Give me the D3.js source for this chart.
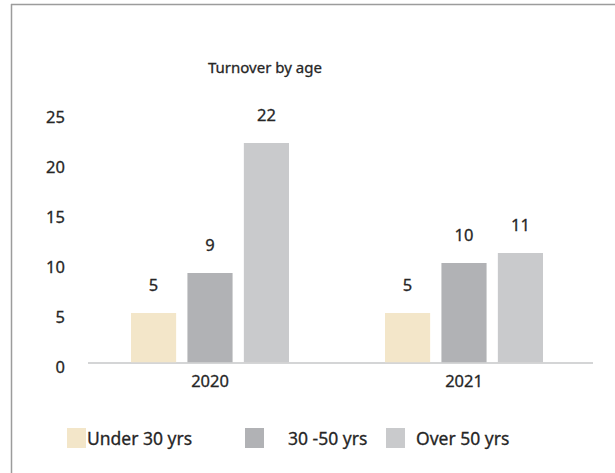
<!DOCTYPE html>
<html>
<head>
<meta charset="utf-8">
<script src="https://cdn.jsdelivr.net/npm/d3@7"></script>
<style>
  html, body { margin: 0; padding: 0; background: #fff; }
  svg text { font-family: "Noto Sans", "Open Sans", sans-serif; fill: #262626; stroke: #262626; stroke-width: 0.3px; }
</style>
</head>
<body>
<svg id="chart" width="615" height="473"></svg>
<script>
// Turnover counts by age band, per year
const years = ["2020", "2021"];
const series = ["Under 30 yrs", "30 -50 yrs", "Over 50 yrs"];
const values2020 = [5, 9, 22];
const values2021 = [5, 10, 11];
const yTicks = [0, 5, 10, 15, 20, 25];
const colors = ["#f3e6c9", "#b1b2b5", "#c9cacc"];

const rows = years.map((yr, i) => ({ year: yr, vals: [values2020, values2021][i] }));

const svg = d3.select("#chart");
const FONT = "\"Noto Sans\", sans-serif";

// frame: top and left edges only
svg.append("line").attr("x1", 11).attr("x2", 615).attr("y1", 4.5).attr("y2", 4.5)
  .attr("stroke", "#9c9c9c").attr("stroke-width", 1.5);
svg.append("line").attr("x1", 11.5).attr("x2", 11.5).attr("y1", 4).attr("y2", 473)
  .attr("stroke", "#9c9c9c").attr("stroke-width", 1.5);

const x0 = d3.scaleBand().domain(years).range([83, 591]);
const x1 = d3.scaleBand().domain(series).range([-79, 79]).paddingInner(0.2);
const y = d3.scaleLinear().domain([0, 25]).range([363, 113]);

// title
svg.append("text").attr("x", 208).attr("y", 73)
  .attr("font-size", 15).text("Turnover by age");

// y axis labels
const yAxis = d3.axisLeft(y).tickValues(yTicks).tickSize(0).tickPadding(0);
const gy = svg.append("g").attr("transform", "translate(65,4)").call(yAxis);
gy.select(".domain").remove();
gy.selectAll("text").attr("font-size", 16.5).style("font-family", FONT).attr("fill", "#262626");

// baseline
svg.append("line").attr("x1", 88).attr("x2", 593).attr("y1", y(0)).attr("y2", y(0))
  .attr("stroke", "#c6c7c9").attr("stroke-width", 1.5);

// bars
const groups = svg.selectAll("g.year").data(rows).join("g")
  .attr("class", "year")
  .attr("transform", d => `translate(${x0(d.year) + x0.bandwidth() / 2},0)`);

groups.selectAll("rect").data(d => d.vals.map((v, i) => ({ s: series[i], v, i })))
  .join("rect")
  .attr("x", d => x1(d.s))
  .attr("width", x1.bandwidth())
  .attr("y", d => y(d.v))
  .attr("height", d => y(0) - y(d.v) - 0.75)
  .attr("fill", d => colors[d.i]);

groups.selectAll("text.val").data(d => d.vals.map((v, i) => ({ s: series[i], v, i })))
  .join("text")
  .attr("class", "val")
  .attr("x", d => x1(d.s) + x1.bandwidth() / 2)
  .attr("y", d => y(d.v) - 22)
  .attr("text-anchor", "middle")
  .attr("font-size", 16.5)
  .text(d => d.v);

// x axis labels
const xAxis = d3.axisBottom(x0).tickSize(0).tickPadding(0);
const gx = svg.append("g").attr("transform", "translate(0,375)").call(xAxis);
gx.select(".domain").remove();
gx.selectAll("text").attr("font-size", 16.5).attr("dy", "0.7em")
  .style("font-family", FONT).attr("fill", "#262626");

// legend
const legendX = [67, 245, 386];
const legendTextX = [87, 288, 416];
const lg = svg.append("g");
series.forEach((s, i) => {
  lg.append("rect").attr("x", legendX[i]).attr("y", 428).attr("width", 19).attr("height", 20)
    .attr("fill", colors[i]);
  lg.append("text").attr("x", legendTextX[i]).attr("y", 445).attr("font-size", 17.5).text(s);
});
</script>
</body>
</html>
